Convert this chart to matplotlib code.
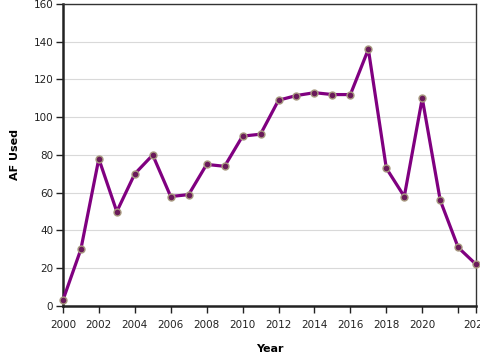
import numpy as np
import matplotlib.pyplot as plt

years = list(range(2000, 2024))
af_used = [3, 30, 78, 50, 70, 80, 58, 59, 75, 74, 90, 91, 109, 111.5,
           113, 112, 112, 136, 73, 58, 110, 56, 31, 22]

tick_years = [2000, 2002, 2004, 2006, 2008, 2010, 2012, 2014, 2016, 2018,
              2020, 2022, 2023]
tick_labels = [str(y) for y in tick_years]
tick_labels[-2] = ""

fig = plt.figure(figsize=(4.8, 3.6), dpi=100)
ax = fig.add_axes([0.131, 0.15, 0.861, 0.839])

ax.grid(axis='y', color='#d9d9d9', linewidth=0.8)
ax.set_axisbelow(True)

ax.plot(years, af_used, color='#800080', linewidth=2.3,
        marker='o', markersize=5, markerfacecolor='#6a1a5a',
        markeredgecolor='#a89a80', markeredgewidth=1.0, clip_on=False,
        zorder=3)

ax.set_xlim(2000, 2023)
ax.set_ylim(0, 160)
ax.set_yticks(np.arange(0, 161, 20))
ax.set_xticks(tick_years)
ax.set_xticklabels(tick_labels)

for side in ['left', 'bottom']:
    ax.spines[side].set_linewidth(1.8)
    ax.spines[side].set_color('#222222')
for side in ['top', 'right']:
    ax.spines[side].set_linewidth(1.0)
    ax.spines[side].set_color('#333333')

ax.tick_params(axis='both', labelsize=7.5, colors='#222222', length=5,
               width=1.0, direction='out', pad=2)
ax.tick_params(axis='x', pad=5)

ax.set_xlabel("Year", fontsize=8, fontweight='bold', labelpad=10)
ax.set_ylabel("AF Used", fontsize=8, fontweight='bold', labelpad=10)

fig.savefig("out.png", dpi=100)
